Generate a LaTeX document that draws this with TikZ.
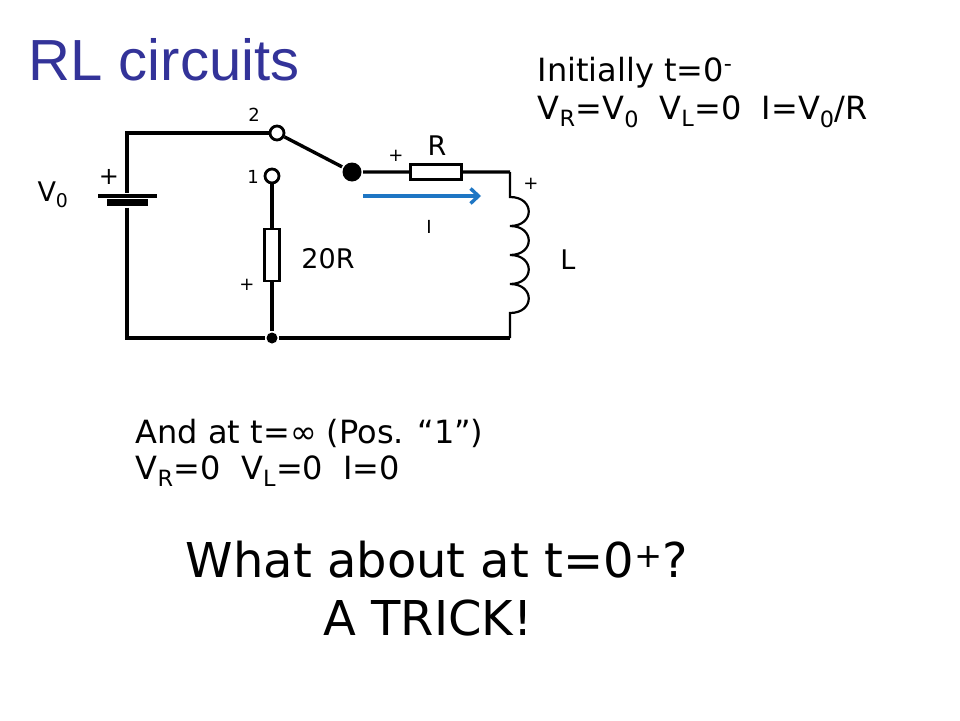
\documentclass[tikz,border=0pt]{standalone}
\usepackage{fontspec}
\setmainfont{DejaVu Sans}
\newfontfamily\titlefont{Liberation Sans}
\usetikzlibrary{positioning, arrows.meta}
\usepackage{xcolor}
\definecolor{titleblue}{RGB}{51,51,153}
\definecolor{currblue}{RGB}{30,118,196}

\newcommand{\fsz}[1]{\fontsize{#1}{#1}\selectfont}

\begin{document}
\begin{tikzpicture}[x=1pt, y=-1pt, line width=3.4pt,
        contact/.style={circle, draw, fill=white, inner sep=0pt, minimum size=14pt, line width=2.8pt},
        dot/.style={circle, fill, inner sep=0pt},
        res/.style={rectangle, draw, fill=white, inner sep=0pt, line width=2.8pt},
        plate/.style={rectangle, fill, inner sep=0pt},
        coil/.style={line width=2.2pt},
        small/.style={font=\fsz{18}, inner sep=0pt},
        label/.style={font=\fsz{27}, inner sep=0pt},
        info/.style={font=\fsz{32}, inner sep=0pt, anchor=base west},
        big/.style={font=\fsz{48}, inner sep=0pt, anchor=base}]
        \path[use as bounding box, fill=white] (0,0) rectangle (960,720);

        % title and notes
        \node[font=\titlefont\fsz{58}, text=titleblue, inner sep=0pt, anchor=base west] (title) at (27,80) {RL circuits};
        \node[info] (init) at (536,81) {Initially t=0\textsuperscript{-}};
        \node[info] (initv) at (536,119) {V\textsubscript{R}=V\textsubscript{0}\ \ V\textsubscript{L}=0\ \ I=V\textsubscript{0}/R};
        \node[info] (inf) at (134,443) {And at t=∞ (Pos. “1”)};
        \node[info] (infv) at (134,479) {V\textsubscript{R}=0\ \ V\textsubscript{L}=0\ \ I=0};
        \node[big] (ask) at (437,577) {What about at t=0\textsuperscript{+}?};
        \node[big] (trick) at (428,635) {A TRICK!};

        % circuit
        \coordinate (tl) at (127,133);
        \coordinate (bl) at (127,338);
        \coordinate (tr) at (510,172);
        \coordinate (br) at (510,338);
        \coordinate (Ltop) at (510,197);
        \coordinate (Lbot) at (510,313);
        \node[plate, minimum width=59pt, minimum height=3.4pt] (bplus) at (127,196) {};
        \node[plate, minimum width=41pt, minimum height=7pt] (bminus) at (127,202.5) {};
        \node[contact] (c2) at (277,133) {};
        \node[contact] (c1) at (272,176) {};
        \node[dot, minimum size=19pt] (pivot) at (352,172) {};
        \node[res, minimum width=51pt, minimum height=15pt] (rR) at (436,172) {};
        \node[res, minimum width=15pt, minimum height=52pt] (r20) at (272,255) {};
        \node[dot, minimum size=11pt] (jn) at (272,338) {};

        \draw (bplus) -- (tl) -- (c2);
        \draw (c2) -- (pivot) -- (rR) -- (tr);
        \draw (bminus) -- (bl) -- (jn) -- (br);
        \draw (c1) -- (r20) -- (jn);
        \draw[coil] (tr) -- (Ltop)
            .. controls (535,197) and (535,226) .. (510,226)
            .. controls (535,226) and (535,255) .. (510,255)
            .. controls (535,255) and (535,284) .. (510,284)
            .. controls (535,284) and (535,313) .. (Lbot) -- (br);

        % current arrow
        \coordinate (Istart) at (363,196);
        \coordinate (Iend) at (481,196);
        \draw[currblue, line width=3.4pt, -{Straight Barb[length=8pt, width=15pt]}] (Istart) -- (Iend);

        % labels
        \node[label] (vzero) at (53,195) {V\textsubscript{0}};
        \node[font=\fsz{24}, inner sep=0pt] (bpl) at (109,177) {+};
        \node[small] (n2) at (254,115) {2};
        \node[small] (n1) at (253,177) {1};
        \node[label] (lR) at (437,146) {R};
        \node[small] (pR) at (396,156) {+};
        \node[small] (pL) at (531,184) {+};
        \node[small] (lI) at (429,227) {I};
        \node[label] (lL) at (568,260) {L};
        \node[label] (l20) at (328,259) {20R};
        \node[small] (p20) at (247,285) {+};
    \end{tikzpicture}
\end{document}
